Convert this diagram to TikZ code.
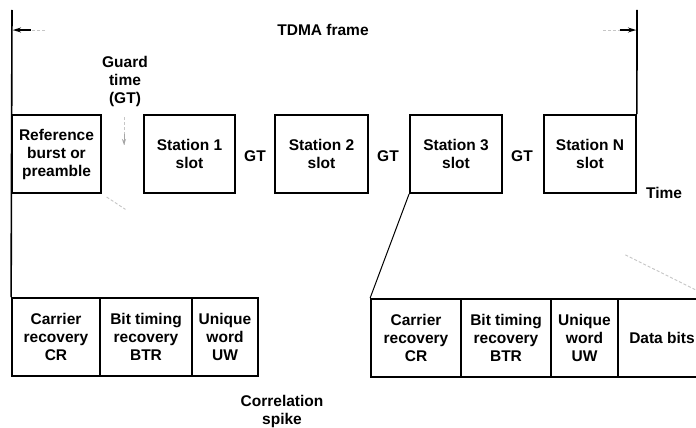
\documentclass[tikz,border=0pt]{standalone}
\usepackage{fontspec}
\setmainfont{Liberation Sans}
\usetikzlibrary{arrows.meta,calc}
\begin{document}
\begin{tikzpicture}[x=1pt,y=-1pt,
  lbl/.style={font=\bfseries\fontsize{15.5}{18}\selectfont, align=center, inner sep=0pt},
  slotbox/.style={draw, line width=1.8pt, minimum height=78pt, lbl},
  thickline/.style={line width=1.6pt},
  faint/.style={gray!45, densely dashed, line width=0.9pt},
  tip/.style={line width=1.1pt, -{Stealth[length=8pt,width=5pt]}}]
\clip (0,0) rectangle (696,428);
\fill[white] (0,0) rectangle (696,428);
% top frame
\coordinate (tl) at (12,10);
\coordinate (tr) at (637,10);
\node[lbl] (tdma) at (323,30) {TDMA frame};
\coordinate (la0) at (45,30);
\coordinate (la) at (13,30);
\coordinate (ra0) at (603,30);
\coordinate (ra) at (636,30);
\draw[faint] (la0) -- (la);
\draw[faint] (ra0) -- (ra);
\draw[tip] ($(la0)!0.45!(la)$) -- (la);
\draw[tip] ($(ra0)!0.5!(ra)$) -- (ra);
% top slots
\node[slotbox, minimum width=89pt] (ref) at (56.5,154) {Reference\\burst or\\preamble};
\node[slotbox, minimum width=91pt] (s1) at (189.5,154) {Station 1\\slot};
\node[slotbox, minimum width=93pt] (s2) at (321.5,154) {Station 2\\slot};
\node[slotbox, minimum width=92pt] (s3) at (456,154) {Station 3\\slot};
\node[slotbox, minimum width=92pt] (sn) at (590,154) {Station N\\slot};
\node[lbl] (gt1) at (255,156) {GT};
\node[lbl] (gt2) at (388,156) {GT};
\node[lbl] (gt3) at (522,156) {GT};
\node[lbl] (time) at (664,193) {Time};
\node[lbl] (guard) at (125,81) {Guard\\time\\(GT)};
\coordinate (ga) at (124,117);
\coordinate (gb) at (124,145);
\draw[faint] (ga) -- (gb);
\draw[line width=0.9pt, gray!70, -{Stealth[length=6pt,width=4pt]}] ($(ga)!0.6!(gb)$) -- (gb);
% lower left (preamble)
\node[slotbox, minimum width=88pt] (cr) at (56,337) {Carrier\\recovery\\CR};
\node[slotbox, minimum width=92pt] (btr) at (146,337) {Bit timing\\recovery\\BTR};
\node[slotbox, minimum width=66pt] (uw) at (225,337) {Unique\\word\\UW};
% lower right (station 3)
\node[slotbox, minimum width=90pt] (cr2) at (416,338) {Carrier\\recovery\\CR};
\node[slotbox, minimum width=90pt] (btr2) at (506,338) {Bit timing\\recovery\\BTR};
\node[slotbox, minimum width=67pt] (uw2) at (584.5,338) {Unique\\word\\UW};
\node[slotbox, minimum width=88pt] (data) at (662,338) {Data bits};
\coordinate (dataend) at (714,299);
\node[lbl] (corr) at (282,411) {Correlation\\spike};
% connectors
\draw[thickline] (tl) -- (cr.north west);
\draw[thickline] (tr) -- (sn.north east);
\draw[line width=1pt] (s3.south west) -- (cr2.north west);
\draw[faint] ($(ref.south east)!0.03!(uw.north east)$) -- ($(ref.south east)!0.15!(uw.north east)$);
\draw[faint] ($(s3.south east)!0.58!(dataend)$) -- (dataend);
\end{tikzpicture}
\end{document}
